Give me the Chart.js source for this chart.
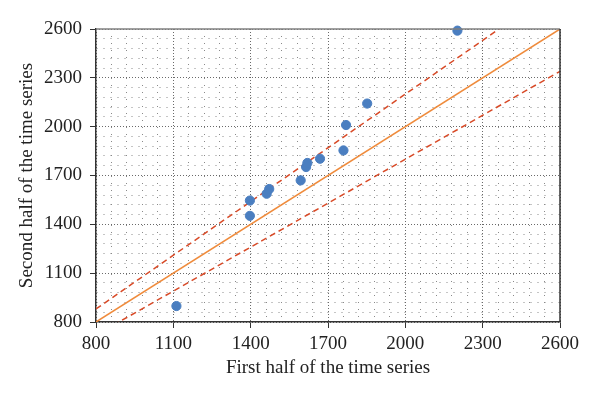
<!DOCTYPE html>
<html>
<head>
<meta charset="utf-8">
<script src="https://cdn.jsdelivr.net/npm/chart.js@4.4.1/dist/chart.umd.min.js"></script>
<style>
  html, body { margin: 0; padding: 0; background: #fff; }
  #wrap { width: 600px; height: 398px; }
</style>
</head>
<body>
<div id="wrap"><canvas id="scatterChart"></canvas></div>
<script>
// first half vs second half of the time series
const firstHalf = [1112, 1397, 1397, 1462, 1472, 1594, 1615, 1620, 1669, 1760, 1770, 1852, 2202];
const secondHalf = [898, 1452, 1546, 1588, 1617, 1670, 1752, 1777, 1803, 1854, 2010, 2142, 2590];

// reference lines (end points)
const lineX = [800, 2600];
const equalY = [800, 2600];
const upperY = [880, 2860];
const lowerY = [720, 2340];

const axisMin = 800;
const axisMax = 2600;
const majorStep = 300;
const minorStep = 60;

const blueColor = '#4a7ec0';
const orangeColor = '#ef8b3c';
const redColor = '#d84a27';
const axisColor = '#333333';
const serif = "'Liberation Serif', 'DejaVu Serif', serif";

const toPoints = (xs, ys) => xs.map((x, i) => ({ x: x, y: ys[i] }));
const isMajor = v => Math.round(v - axisMin) % majorStep === 0;

// box round the plot area (top + right side)
const framePlugin = {
  id: 'frame',
  afterDatasetsDraw(chart) {
    const { ctx, chartArea: a } = chart;
    ctx.save();
    ctx.lineWidth = 1.5;
    ctx.strokeStyle = '#808080';
    ctx.beginPath();
    ctx.moveTo(a.left, a.top);
    ctx.lineTo(a.right, a.top);
    ctx.stroke();
    ctx.strokeStyle = axisColor;
    ctx.beginPath();
    ctx.moveTo(a.right, a.top);
    ctx.lineTo(a.right, a.bottom);
    ctx.stroke();
    ctx.restore();
  }
};

// minor grid (main axes), majors left to the extra axes
const minorGrid = {
  color: ctx => isMajor(ctx.tick.value) ? 'rgba(0,0,0,0)' : '#8a8a8a',
  lineWidth: 1,
  tickLength: 6,
  tickColor: ctx => isMajor(ctx.tick.value) ? axisColor : 'rgba(0,0,0,0)',
  tickWidth: 1
};

const majorGrid = {
  color: '#6a6a6a',
  lineWidth: 1,
  drawTicks: false
};

const tickOpts = {
  stepSize: minorStep,
  autoSkip: false,
  maxRotation: 0,
  color: '#222',
  font: { family: serif, size: 19 },
  callback: v => isMajor(v) ? String(Math.round(v)) : ''
};

const titleFont = { family: serif, size: 19 };

const ctx = document.getElementById('scatterChart');
new Chart(ctx, {
  type: 'scatter',
  data: {
    datasets: [
      {
        data: toPoints(firstHalf, secondHalf),
        backgroundColor: blueColor,
        borderColor: blueColor,
        pointRadius: 4.6,
        clip: false
      },
      {
        data: toPoints(lineX, upperY),
        showLine: true,
        borderColor: redColor,
        borderWidth: 1.5,
        borderDash: [6, 4],
        pointRadius: 0
      },
      {
        data: toPoints(lineX, lowerY),
        showLine: true,
        borderColor: redColor,
        borderWidth: 1.5,
        borderDash: [6, 4],
        pointRadius: 0
      },
      {
        data: toPoints(lineX, equalY),
        showLine: true,
        borderColor: orangeColor,
        borderWidth: 1.5,
        pointRadius: 0
      }
    ]
  },
  options: {
    responsive: true,
    maintainAspectRatio: false,
    animation: false,
    layout: {
      padding: { left: 0, right: 40, top: 29, bottom: 0 }
    },
    plugins: {
      legend: { display: false },
      tooltip: { enabled: false }
    },
    scales: {
      x: {
        type: 'linear',
        min: axisMin,
        max: axisMax,
        grid: minorGrid,
        border: { display: true, color: axisColor, width: 1.5, dash: [1, 6] },
        ticks: Object.assign({ padding: 5 }, tickOpts),
        title: {
          display: true,
          text: 'First half of the time series',
          color: '#222',
          font: titleFont,
          padding: { top: 0, bottom: 19 }
        },
        afterFit: scale => { scale.height = 76; }
      },
      y: {
        type: 'linear',
        min: axisMin,
        max: axisMax,
        grid: minorGrid,
        border: { display: true, color: axisColor, width: 1.5, dash: [1, 6] },
        ticks: Object.assign({ padding: 8 }, tickOpts),
        title: {
          display: true,
          text: 'Second half of the time series',
          color: '#222',
          font: titleFont,
          padding: { top: 16, bottom: 0 }
        },
        afterFit: scale => { scale.width = 96; }
      },
      // extra axes only for the denser major grid lines
      xMajor: {
        type: 'linear',
        axis: 'x',
        position: 'bottom',
        min: axisMin,
        max: axisMax,
        grid: majorGrid,
        border: { display: false, dash: [1, 2] },
        ticks: { display: false, stepSize: majorStep },
        afterFit: scale => { scale.height = 0; }
      },
      yMajor: {
        type: 'linear',
        axis: 'y',
        position: 'left',
        min: axisMin,
        max: axisMax,
        grid: majorGrid,
        border: { display: false, dash: [1, 2] },
        ticks: { display: false, stepSize: majorStep },
        afterFit: scale => { scale.width = 0; }
      }
    }
  },
  plugins: [framePlugin]
});
</script>
</body>
</html>
